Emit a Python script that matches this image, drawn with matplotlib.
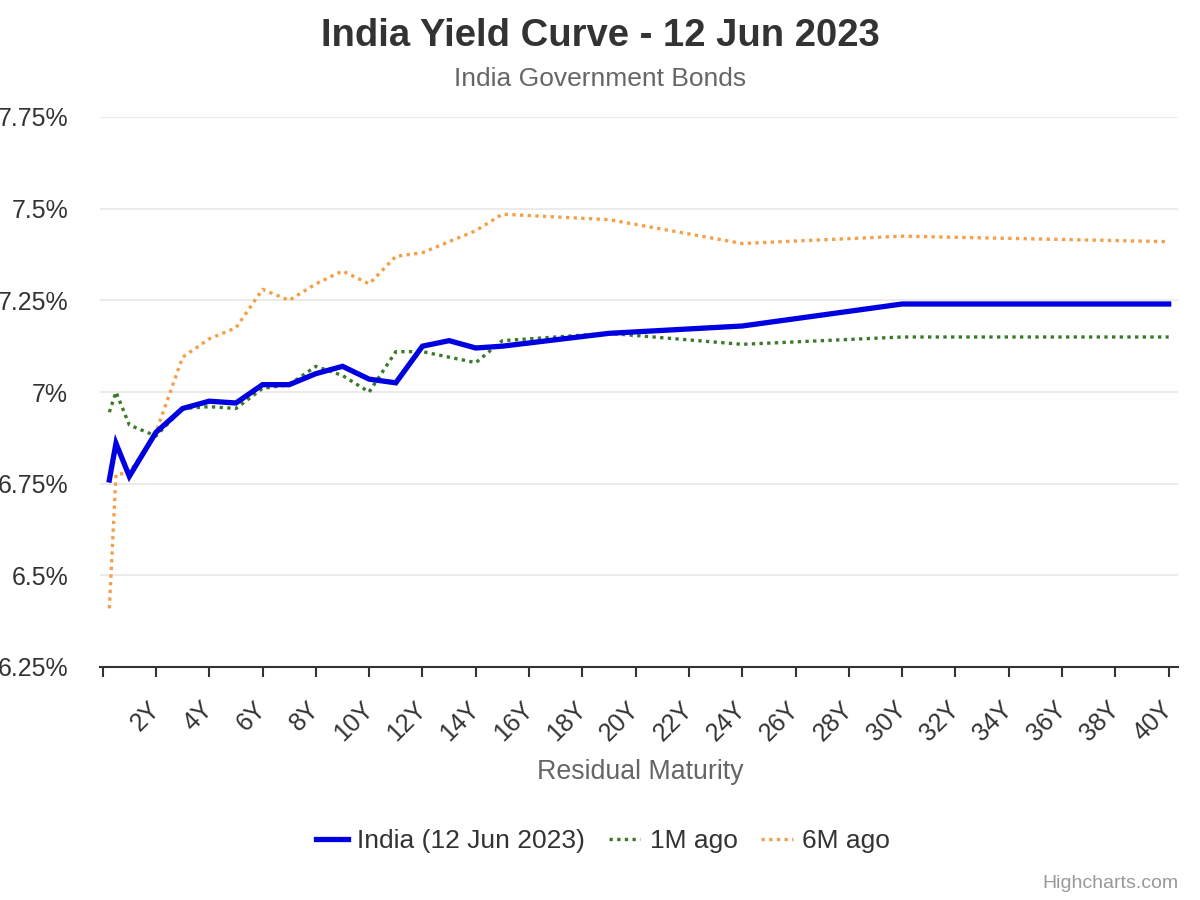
import matplotlib.pyplot as plt
from matplotlib.ticker import FuncFormatter

plt.rcParams['font.family'] = ['Liberation Sans', 'DejaVu Sans']

# residual maturity in years
maturity = [0.25, 0.5, 1, 2, 3, 4, 5, 6, 7, 8, 9, 10, 11, 12, 13, 14, 15, 19, 24, 30, 40]

india_now = [6.76, 6.86, 6.77, 6.89, 6.955, 6.975, 6.97, 7.02, 7.02, 7.05, 7.07,
             7.035, 7.025, 7.125, 7.14, 7.12, 7.125, 7.16, 7.18, 7.24, 7.24]
one_month_ago = [6.945, 7.0, 6.91, 6.88, 6.955, 6.96, 6.955, 7.01, 7.02, 7.07, 7.045,
                 7.0, 7.11, 7.11, 7.095, 7.08, 7.14, 7.16, 7.13, 7.15, 7.15]
six_months_ago = [6.41, 6.775, 6.78, 6.89, 7.095, 7.145, 7.175, 7.28, 7.25, 7.295, 7.33,
                  7.295, 7.37, 7.38, 7.41, 7.44, 7.485, 7.47, 7.405, 7.425, 7.41]

x_ticks = list(range(0, 41, 2))
x_tick_labels = [''] + [f'{t}Y' for t in x_ticks[1:]]
y_ticks = [6.25, 6.5, 6.75, 7.0, 7.25, 7.5, 7.75]

fig = plt.figure(figsize=(12, 9), dpi=100)
ax = fig.add_axes([100 / 1200, 233 / 900, 1078 / 1200, 550 / 900])

ax.plot(maturity, one_month_ago, color='#3b7a2b', linewidth=2.4,
        linestyle=(0, (1, 1.3)), label='1M ago', zorder=3)
ax.plot(maturity, six_months_ago, color='#f4a04a', linewidth=2.4,
        linestyle=(0, (1, 1.3)), label='6M ago', zorder=3)
ax.plot(maturity, india_now, color='#0000e0', linewidth=3.8,
        label='India (12 Jun 2023)', zorder=4, solid_joinstyle='miter')

ax.set_xlim(-0.1, 40.35)
ax.set_ylim(6.25, 7.75)

ax.set_yticks(y_ticks)
ax.yaxis.set_major_formatter(FuncFormatter(lambda v, p: f'{v:g}%'))
ax.tick_params(axis='y', length=0, pad=23, labelsize=18, labelcolor='#333333')
ax.grid(axis='y', color='#e6e6e6', linewidth=1.1)
ax.set_axisbelow(True)

ax.set_xticks(x_ticks)
ax.set_xticklabels(x_tick_labels, rotation=45, ha='right', va='center',
                   rotation_mode='anchor')
ax.tick_params(axis='x', direction='out', length=7.5, width=1.5, color='#333333',
               pad=20, labelsize=18, labelcolor='#333333')

for side in ['top', 'right', 'left']:
    ax.spines[side].set_visible(False)
ax.spines['bottom'].set_color('#333333')
ax.spines['bottom'].set_linewidth(1.5)

fig.text(0.5, 1 - 36 / 900, 'India Yield Curve - 12 Jun 2023', ha='center', va='center',
         fontsize=27.5, fontweight='bold', color='#333333')
fig.text(0.5, 1 - 79 / 900, 'India Government Bonds', ha='center', va='center',
         fontsize=19, color='#666666')
fig.text(640 / 1200, 1 - 772 / 900, 'Residual Maturity', ha='center', va='center',
         fontsize=19.3, color='#666666')
fig.text(1179 / 1200, 1 - 884 / 900, 'Highcharts.com', ha='right', va='center',
         fontsize=14, color='#999999')

handles, labels = ax.get_legend_handles_labels()
order = [2, 0, 1]
fig.legend([handles[i] for i in order], [labels[i] for i in order],
           loc='center', bbox_to_anchor=(603 / 1200, 1 - 841 / 900), ncol=3,
           frameon=False, fontsize=19, handlelength=1.2, handletextpad=0.35,
           columnspacing=0.9, labelcolor='#333333')

fig.savefig('out.png', dpi=100)
